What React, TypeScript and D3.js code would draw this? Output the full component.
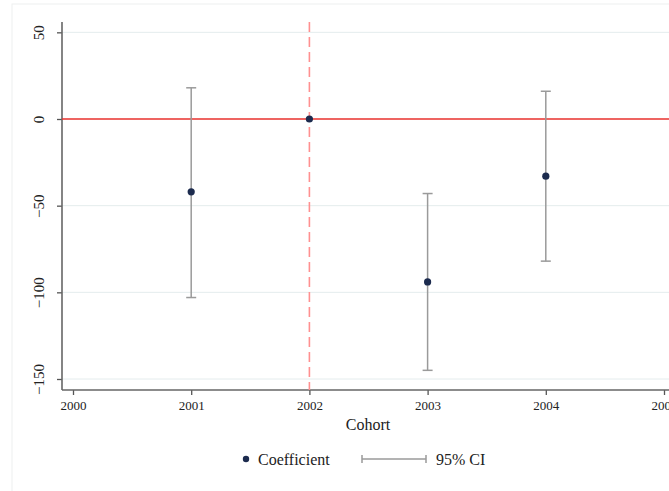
import React, { useEffect, useRef } from 'react';
import * as d3 from 'd3';

const cohorts = [2001, 2002, 2003, 2004];
const coef = [-42, 0, -94, -33];
const ciLow = [-103, null, -145, -82];
const ciHigh = [18, null, -43, 16];
const xTicks = [2000, 2001, 2002, 2003, 2004, 2005];
const yTicks = [50, 0, -50, -100, -150];
const eventYear = 2002;

const W = 669;
const H = 491;
const font = '"Liberation Serif", "Times New Roman", serif';

export default function App() {
  const svgRef = useRef<SVGSVGElement>(null);

  useEffect(() => {
    const svg = d3.select(svgRef.current);
    svg.selectAll('*').remove();

    const x = d3.scaleLinear().domain([2000, 2005]).range([73, 664]);
    const y = d3.scaleLinear().domain([0, -150]).range([119, 379]);
    const left = 62;
    const top = 22;
    const bottom = 390;

    svg.append('rect').attr('x', 12).attr('y', 4).attr('width', W).attr('height', H)
      .attr('fill', 'none').attr('stroke', '#eef0f0');

    // light grid lines
    svg.append('g')
      .selectAll('line')
      .data(yTicks.filter((d) => d !== 0))
      .join('line')
      .attr('x1', left).attr('x2', W)
      .attr('y1', (d) => y(d)).attr('y2', (d) => y(d))
      .attr('stroke', '#e4eced').attr('stroke-width', 1);

    // axes
    const yAxis = svg.append('g')
      .attr('transform', `translate(${left},0)`)
      .call(d3.axisLeft(y).tickValues(yTicks).tickSize(5).tickPadding(4).tickFormat(d3.format('d')));
    yAxis.select('.domain').remove();
    yAxis.append('line').attr('x1', 0).attr('x2', 0).attr('y1', top).attr('y2', bottom)
      .attr('stroke', '#666').attr('stroke-width', 1.6);
    yAxis.selectAll('.tick line').attr('stroke', '#555').attr('stroke-width', 1.3);
    yAxis.selectAll('.tick text')
      .attr('transform', 'rotate(-90)')
      .attr('x', 0).attr('y', -18).attr('dy', 0)
      .attr('text-anchor', 'middle')
      .style('font-family', font).style('font-size', '15px').attr('fill', '#222');

    const xAxis = svg.append('g')
      .attr('transform', `translate(0,${bottom})`)
      .call(d3.axisBottom(x).tickValues(xTicks).tickSize(5).tickPadding(6).tickFormat(d3.format('d')));
    xAxis.select('.domain').remove();
    xAxis.append('line').attr('x1', left).attr('x2', W).attr('y1', 0).attr('y2', 0)
      .attr('stroke', '#666').attr('stroke-width', 1.6);
    xAxis.selectAll('.tick line').attr('stroke', '#555').attr('stroke-width', 1.3);
    xAxis.selectAll('.tick text')
      .style('font-family', font).style('font-size', '13px').attr('fill', '#222');

    svg.append('text').attr('x', 368).attr('y', 430).attr('text-anchor', 'middle')
      .style('font-family', font).style('font-size', '16px').attr('fill', '#222').text('Cohort');

    // reference lines
    svg.append('line').attr('x1', x(eventYear)).attr('x2', x(eventYear))
      .attr('y1', top).attr('y2', bottom)
      .attr('stroke', '#ff9090').attr('stroke-width', 1.6).attr('stroke-dasharray', '10,5');
    svg.append('line').attr('x1', left).attr('x2', W).attr('y1', y(0)).attr('y2', y(0))
      .attr('stroke', '#e8302c').attr('stroke-width', 1.6);

    // confidence intervals
    const ci = svg.append('g').attr('stroke', '#9a9a9a').attr('stroke-width', 1.5);
    cohorts.forEach((c, i) => {
      const lo = ciLow[i];
      const hi = ciHigh[i];
      if (lo === null || hi === null) return;
      const cx = x(c);
      ci.append('line').attr('x1', cx).attr('x2', cx).attr('y1', y(hi)).attr('y2', y(lo));
      ci.append('line').attr('x1', cx - 5).attr('x2', cx + 5).attr('y1', y(hi)).attr('y2', y(hi));
      ci.append('line').attr('x1', cx - 5).attr('x2', cx + 5).attr('y1', y(lo)).attr('y2', y(lo));
    });

    svg.append('g')
      .selectAll('circle')
      .data(cohorts)
      .join('circle')
      .attr('cx', (d) => x(d))
      .attr('cy', (d, i) => y(coef[i]))
      .attr('r', 3.6)
      .attr('fill', '#1c2b4e');

    // legend
    const lg = svg.append('g').style('font-family', font).style('font-size', '16px').attr('fill', '#222');
    lg.append('circle').attr('cx', 246).attr('cy', 459).attr('r', 3.2).attr('fill', '#1c2b4e');
    lg.append('text').attr('x', 258).attr('y', 465).text('Coefficient');
    lg.append('line').attr('x1', 362).attr('x2', 426).attr('y1', 459).attr('y2', 459)
      .attr('stroke', '#9a9a9a').attr('stroke-width', 1.5);
    lg.append('line').attr('x1', 362).attr('x2', 362).attr('y1', 455).attr('y2', 463)
      .attr('stroke', '#9a9a9a').attr('stroke-width', 1.5);
    lg.append('line').attr('x1', 426).attr('x2', 426).attr('y1', 455).attr('y2', 463)
      .attr('stroke', '#9a9a9a').attr('stroke-width', 1.5);
    lg.append('text').attr('x', 436).attr('y', 465).text('95% CI');
  }, []);

  return (
    <svg ref={svgRef} width={W} height={H}
      style={{ position: 'absolute', left: 0, top: 0, background: '#fff' }} />
  );
}
